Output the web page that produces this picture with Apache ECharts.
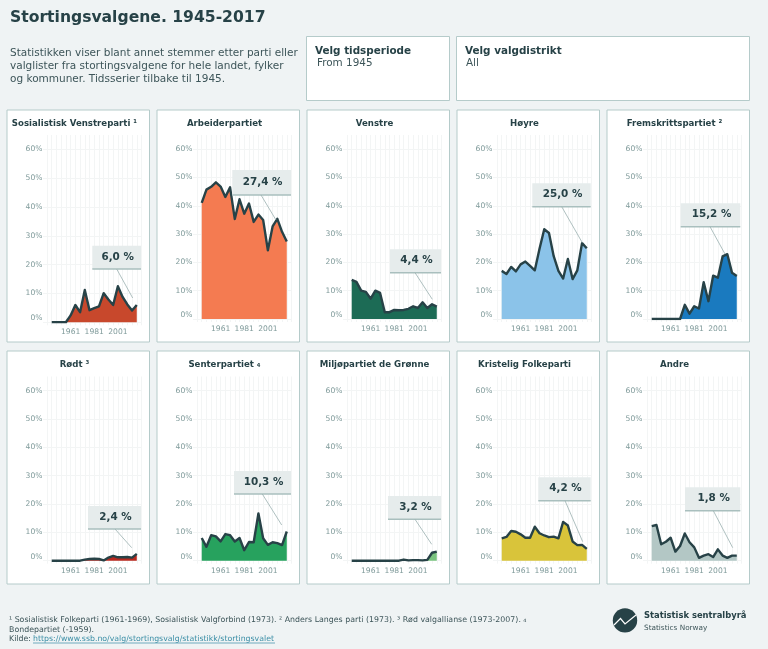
<!DOCTYPE html>
<html><head><meta charset="utf-8">
<style>html,body{margin:0;padding:0;background:#eff3f4}#c{width:768px;height:649px}</style>
<script src="https://cdn.jsdelivr.net/npm/echarts@6/dist/echarts.min.js"></script>
</head><body><div id="c"></div>
<script>
const years = ['1941',1945,1949,1953,1957,1961,1965,1969,1973,1977,1981,1985,1989,1993,1997,2001,2005,2009,2013,2017,'2021'];
const yTicks = [0,10,20,30,40,50,60];
const parties = ['Sosialistisk Venstreparti ¹','Arbeiderpartiet','Venstre','Høyre','Fremskrittspartiet ²','Rødt ³','Senterpartiet ₄','Miljøpartiet de Grønne','Kristelig Folkeparti','Andre'];
const latest = ['6,0 %','27,4 %','4,4 %','25,0 %','15,2 %','2,4 %','10,3 %','3,2 %','4,2 %','1,8 %'];
const colors = ['#c8482c','#f47b51','#1c6b55','#8bc3e9','#1a7abf','#b9291f','#27a25e','#79c37f','#d9c43a','#b3c7c5'];
const sv = [0,0,0,0,2.4,6.0,3.5,11.2,4.2,4.9,5.5,10.1,7.9,6.0,12.5,8.8,6.2,4.1,6.0];
const ap = [41.0,45.7,46.7,48.3,46.8,43.1,46.5,35.3,42.3,37.2,40.8,34.3,36.9,35.0,24.3,32.7,35.4,30.8,27.4];
const v = [13.8,13.1,10.0,9.6,7.2,10.0,9.2,2.4,2.4,3.2,3.1,3.2,3.6,4.5,3.9,5.9,3.9,5.2,4.4];
const h = [17.0,15.9,18.4,16.8,19.3,20.3,18.8,17.2,24.8,31.7,30.4,22.2,17.0,14.3,21.2,14.1,17.2,26.8,25.0];
const frp = [0,0,0,0,0,0,0,5.0,1.9,4.5,3.7,13.0,6.3,15.3,14.6,22.1,22.9,16.3,15.2];
const r = [0,0,0,0,0,0,0,0.4,0.6,0.7,0.6,0.1,1.1,1.7,1.2,1.2,1.3,1.1,2.4];
const sp = [8.0,4.9,9.0,8.6,6.8,9.4,9.0,6.8,8.0,3.7,6.6,6.5,16.7,7.9,5.6,6.5,6.2,5.5,10.3];
const mdg = [0,0,0,0,0,0,0,0,0,0,0,0.4,0.1,0.2,0.2,0.1,0.3,2.8,3.2];
const krf = [7.9,8.4,10.5,10.2,9.3,8.1,8.1,12.0,9.7,8.9,8.3,8.5,7.9,13.7,12.4,6.8,5.5,5.6,4.2];
const andre = [12.2,12.6,5.8,6.7,8.1,3.2,5.2,9.6,6.5,4.7,1.0,1.8,2.3,1.3,4.0,1.8,1.0,1.8,1.8];
const allValues = [sv,ap,v,h,frp,r,sp,mdg,krf,andre];

const ink='#274247', muted='#7f9a9a', border='#b5cbca', font='"DejaVu Sans"', gridC='#f3f5f5';
const panelX=[7,157,307,457,607];
const panels=[];
for(let i=0;i<10;i++){
  const col=i%5,row=i<5?0:1;
  panels.push({x:panelX[col],y:row?351:110,w:142.5,h:row?233:232,
    gl:panelX[col]+40,gr:panelX[col]+134.5,gt:row?376.5:135,gb:i==0?322.3:(row?560.7:319)});
}
const boxes=[[92.3,245.7,141,269,116.7,132.7,298],[232.3,170,291,195,261,276,220],[390,249.3,441,272.7,415,432.3,299.3],
 [532.3,183.3,590.7,206.7,561.7,582.3,242.7],[680.7,203.3,740.3,226.7,710,725,254],[88,506,141,529,115,131.7,547.7],
 [234,471,291,494,262.3,281.7,525],[388,496,441,519.3,415,431.7,544.3],[538.3,477.3,590.7,500.7,565,582.7,541.7],[685,487.3,740.3,510.7,713.3,732.7,547.7]];

const g=[];
const txt=(x,y,text,o={})=>g.push({type:'text',x,y,z:o.z||5,silent:true,style:Object.assign({text,fontFamily:font,fontSize:10,fill:ink,verticalAlign:'middle'},o.style||{})});
const box=(x,y,w,h)=>g.push({type:'rect',x,y,z:-10,shape:{x:0,y:0,width:w,height:h},silent:true,style:{fill:'#fff',stroke:border,lineWidth:1}});
txt(10,17.5,'Stortingsvalgene. 1945-2017',{style:{fontSize:15.6,fontWeight:'bold'}});
['Statistikken viser blant annet stemmer etter parti eller','valglister fra stortingsvalgene for hele landet, fylker','og kommuner. Tidsserier tilbake til 1945.'].forEach((t,i)=>txt(10,53+i*13,t,{style:{fontSize:10.5,fill:'#3d5559'}}));
box(306.5,36.5,143,64);box(456.5,36.5,293,64);
txt(315,51,'Velg tidsperiode',{style:{fontSize:10.4,fontWeight:'bold'}});
txt(317,63.5,'From 1945',{style:{fontSize:10.4,fill:'#3d5559'}});
txt(465,51,'Velg valgdistrikt',{style:{fontSize:10.4,fontWeight:'bold'}});
txt(466,63.5,'All',{style:{fontSize:10.4,fill:'#3d5559'}});
panels.forEach((p,i)=>{
  box(p.x,p.y,p.w,p.h);
  txt(p.x+67.5,p.y+13.5,parties[i],{style:{fontSize:8.6,fontWeight:'bold',align:'center'}});
  const b=boxes[i];
  g.push({type:'rect',x:b[0],y:b[1],z:6,silent:true,shape:{x:0,y:0,width:b[2]-b[0],height:b[3]-b[1]},style:{fill:'#e6ecec'}});
  g.push({type:'line',z:6,silent:true,shape:{x1:b[0],y1:b[3],x2:b[2],y2:b[3]},style:{stroke:'#a9bfbe',lineWidth:1.5}});
  g.push({type:'line',z:6,silent:true,shape:{x1:b[4],y1:b[3],x2:b[5],y2:b[6]},style:{stroke:'#9ab0b0',lineWidth:.8}});
  txt((b[0]+b[2])/2+1,(b[1]+b[3])/2-.5,latest[i],{z:7,style:{fontSize:10.4,fontWeight:'bold',align:'center'}});
});
[['¹ Sosialistisk Folkeparti (1961-1969), Sosialistisk Valgforbind (1973). ² Anders Langes parti (1973). ³ Rød valgallianse (1973-2007). ₄',620],['Bondepartiet (-1959).',629.7],['Kilde: ',639.3]].forEach(a=>txt(9,a[1],a[0],{style:{fontSize:7.85,fill:'#3d5559'}}));
txt(33,639.3,'https://www.ssb.no/valg/stortingsvalg/statistikk/stortingsvalet',{style:{fontSize:7.8,fill:'#3a8ea6'}});
g.push({type:'line',silent:true,z:5,shape:{x1:33,y1:643,x2:275,y2:643},style:{stroke:'#3a8ea6',lineWidth:.7}});
g.push({type:'circle',silent:true,z:5,shape:{cx:625,cy:620.4,r:12.2},style:{fill:ink}});
g.push({type:'polyline',silent:true,z:6,shape:{points:[[614,625],[620.5,618.5],[625,624],[636,615]]},style:{stroke:'#fff',lineWidth:1.2,fill:'none'}});
txt(644,615.7,'Statistisk sentralbyrå',{style:{fontSize:8.4,fontWeight:'bold'}});
txt(644,627.7,'Statistics Norway',{style:{fontSize:7.3,fill:'#3d5559'}});

const grid=[],xAxis=[],yAxis=[],series=[];
panels.forEach((p,i)=>{
  grid.push({left:p.gl,width:p.gr-p.gl,top:p.gt,height:p.gb-p.gt});
  xAxis.push({type:'category',gridIndex:i,data:years.map(String),boundaryGap:false,
    axisLine:{show:false},axisTick:{show:true,interval:0,length:3,lineStyle:{color:gridC}},
    axisLabel:{interval:(idx,val)=>['1961','1981','2001'].includes(val),hideOverlap:false,margin:6,color:muted,fontSize:7.6,fontFamily:font},
    splitLine:{show:true,interval:0,lineStyle:{color:gridC,width:1}}});
  yAxis.push({type:'value',gridIndex:i,min:0,max:65,interval:10,
    axisLine:{show:false},axisTick:{show:true,length:4,lineStyle:{color:gridC}},
    axisLabel:{margin:4.5,color:muted,fontSize:7.6,fontFamily:font,showMaxLabel:false,verticalAlignMinLabel:'bottom',formatter:x=>yTicks.includes(x)?x+'%':''},
    splitLine:{show:true,showMaxLine:false,lineStyle:{color:gridC,width:1}}});
  series.push({type:'line',xAxisIndex:i,yAxisIndex:i,data:[null,...allValues[i],null],showSymbol:false,silent:true,animation:false,z:3,
    lineStyle:{color:ink,width:2.4,join:'round'},itemStyle:{color:ink},areaStyle:{color:colors[i],opacity:1}});
});
const chart=echarts.init(document.getElementById('c'));
chart.setOption({backgroundColor:'#eff3f4',animation:false,tooltip:{show:false},grid,xAxis,yAxis,series,graphic:g});
</script></body></html>
